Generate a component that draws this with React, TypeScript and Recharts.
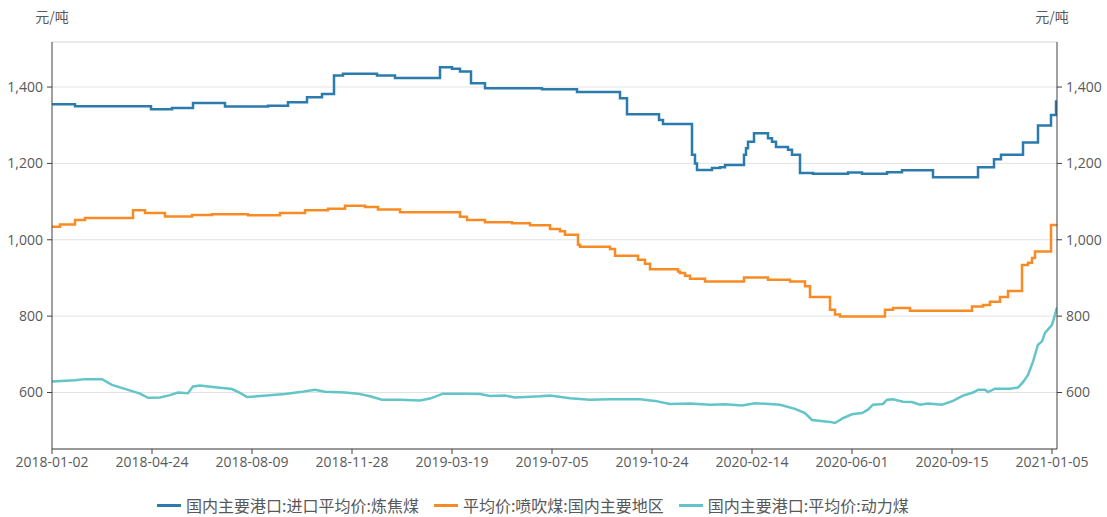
import React from 'react';
import { LineChart, Line, XAxis, YAxis, CartesianGrid, Legend, ReferenceLine } from 'recharts';

// x positions are trading-day indices scaled so that each labelled tick is 100 units apart
const tickPositions = [0, 100, 200, 300, 400, 500, 600, 700, 800, 900, 1000];
const tickLabels = ['2018-01-02', '2018-04-24', '2018-08-09', '2018-11-28', '2019-03-19', '2019-07-05', '2019-10-24', '2020-02-14', '2020-06-01', '2020-09-15', '2021-01-05'];
const yTicks = [600, 800, 1000, 1200, 1400];

const cokingX = [0, 23, 99, 120, 141, 173, 216, 236, 255, 270, 282, 291, 325, 343, 388, 400, 408, 419, 433, 490, 525, 568, 575, 607, 611, 640, 643, 645, 660, 668, 673, 692, 694, 696, 702, 716, 720, 724, 736, 740, 748, 761, 796, 810, 835, 850, 881, 926, 942, 949, 971, 986, 999, 1004, 1005];
const cokingY = [1355, 1350, 1342, 1345, 1358, 1349, 1351, 1360, 1373, 1382, 1430, 1435, 1430, 1424, 1452, 1448, 1441, 1410, 1397, 1394, 1387, 1371, 1329, 1314, 1303, 1223, 1200, 1183, 1188, 1190, 1196, 1223, 1240, 1257, 1279, 1266, 1257, 1243, 1236, 1223, 1175, 1173, 1176, 1173, 1177, 1182, 1164, 1190, 1211, 1223, 1255, 1299, 1327, 1362, 1362];

const pciX = [0, 8, 23, 33, 81, 93, 113, 140, 160, 196, 228, 253, 276, 293, 313, 326, 348, 408, 415, 433, 460, 478, 498, 508, 513, 526, 528, 558, 563, 586, 593, 598, 626, 628, 633, 638, 653, 692, 716, 738, 753, 758, 778, 783, 788, 833, 841, 858, 920, 931, 938, 948, 956, 970, 976, 980, 983, 999, 1005];
const pciY = [1034, 1040, 1052, 1057, 1077, 1070, 1061, 1065, 1067, 1064, 1070, 1077, 1081, 1089, 1086, 1079, 1072, 1060, 1052, 1046, 1043, 1038, 1028, 1022, 1013, 987, 982, 976, 958, 948, 937, 923, 917, 913, 906, 898, 891, 901, 895, 891, 878, 850, 817, 804, 799, 817, 821, 814, 825, 829, 838, 850, 866, 934, 940, 952, 969, 1039, 1037];

const thermalX = [0, 23, 33, 50, 60, 76, 88, 96, 108, 118, 126, 136, 141, 148, 163, 180, 188, 195, 205, 233, 248, 263, 273, 293, 306, 318, 330, 348, 368, 378, 391, 413, 428, 438, 453, 463, 488, 498, 518, 538, 558, 588, 603, 618, 638, 658, 673, 690, 703, 728, 743, 753, 760, 778, 783, 791, 800, 810, 816, 821, 831, 835, 841, 851, 860, 868, 876, 890, 901, 911, 921, 926, 933, 936, 943, 958, 966, 971, 976, 981, 986, 990, 993, 1000, 1002, 1005];
const thermalY = [629, 632, 635, 635, 620, 607, 597, 586, 587, 593, 600, 598, 616, 618, 614, 609, 599, 588, 590, 596, 601, 607, 602, 600, 597, 590, 581, 581, 579, 584, 597, 597, 596, 591, 592, 587, 590, 592, 585, 581, 582, 582, 578, 570, 571, 568, 569, 566, 572, 568, 557, 546, 528, 523, 520, 533, 543, 546, 555, 568, 570, 581, 582, 576, 575, 568, 571, 568, 578, 592, 600, 607, 607, 601, 610, 610, 613, 627, 646, 681, 725, 734, 756, 777, 795, 823];

const seriesNames = ['国内主要港口:进口平均价:炼焦煤', '平均价:喷吹煤:国内主要地区', '国内主要港口:平均价:动力煤'];
const seriesColors = ['#2b7bac', '#f98b25', '#63c5c7'];

const toPoints = (xs: number[], ys: number[]) => xs.map((x, i) => ({ x, v: ys[i] }));
const cokingData = toPoints(cokingX, cokingY);
const pciData = toPoints(pciX, pciY);
const thermalData = toPoints(thermalX, thermalY);

const FONT = '"Open Sans", "Noto Sans CJK SC", sans-serif';
const CJK = '"Noto Sans CJK SC", sans-serif';
const axisColor = '#404040';
const textColor = '#595959';

const unitLabel = (side: 'left' | 'right') => (props: any) => {
  const vb = props.viewBox || {};
  const x = side === 'left' ? vb.x + vb.width : vb.x - 5;
  return (
    <text x={x} y={vb.y - 20} textAnchor="middle" fontSize={14} fill={textColor} fontFamily={CJK}>
      元/吨
    </text>
  );
};

const renderLegend = () => (
  <div style={{ display: 'flex', alignItems: 'center', height: 24, lineHeight: '24px', paddingLeft: 157, fontFamily: CJK, fontSize: 16, color: textColor }}>
    {seriesNames.map((n, i) => (
      <div key={n} style={{ display: 'flex', alignItems: 'center', marginRight: 15 }}>
        <span style={{ display: 'inline-block', width: 24, height: 3, background: seriesColors[i], marginRight: 5 }} />
        <span style={{ whiteSpace: 'nowrap' }}>{n}</span>
      </div>
    ))}
  </div>
);

export default function App() {
  return (
    <div style={{ position: 'fixed', left: 0, top: 0, width: 1107, height: 517, background: '#fff' }}>
      <LineChart width={1107} height={517} margin={{ top: 42, right: 0, bottom: 0, left: 0 }}>
        <CartesianGrid horizontal vertical={false} stroke="#e3e3e3" yAxisId="left" />
        <XAxis
          dataKey="x"
          type="number"
          domain={[0, 1005]}
          ticks={tickPositions}
          tickFormatter={(v: number) => tickLabels[tickPositions.indexOf(v)] ?? ''}
          height={44}
          tickSize={5}
          tickMargin={3}
          stroke={axisColor}
          tick={{ fill: textColor, fontSize: 14, fontFamily: FONT }}
          allowDataOverflow
          interval={0}
        />
        <YAxis
          yAxisId="left"
          orientation="left"
          width={52}
          domain={[452, 1518]}
          ticks={yTicks}
          tickFormatter={(v: number) => v.toLocaleString('en-US')}
          tickSize={5}
          tickMargin={4}
          stroke={axisColor}
          tick={{ fill: textColor, fontSize: 14, fontFamily: FONT }}
          allowDataOverflow
          label={{ content: unitLabel('left') } as any}
        />
        <YAxis
          yAxisId="right"
          orientation="right"
          width={50}
          domain={[452, 1518]}
          ticks={yTicks}
          tickFormatter={(v: number) => v.toLocaleString('en-US')}
          tickSize={5}
          tickMargin={4}
          stroke={axisColor}
          tick={{ fill: textColor, fontSize: 14, fontFamily: FONT }}
          allowDataOverflow
          label={{ content: unitLabel('right') } as any}
        />
        <ReferenceLine yAxisId="left" y={1518} stroke="#e3e3e3" />
        <Legend verticalAlign="bottom" content={renderLegend} wrapperStyle={{ left: 0, width: 1107 }} />
        <Line yAxisId="left" data={cokingData} dataKey="v" name={seriesNames[0]} type="stepAfter" stroke={seriesColors[0]} strokeWidth={2.5} dot={false} isAnimationActive={false} />
        <Line yAxisId="left" data={pciData} dataKey="v" name={seriesNames[1]} type="stepAfter" stroke={seriesColors[1]} strokeWidth={2.5} dot={false} isAnimationActive={false} />
        <Line yAxisId="left" data={thermalData} dataKey="v" name={seriesNames[2]} type="linear" stroke={seriesColors[2]} strokeWidth={2.5} dot={false} isAnimationActive={false} />
      </LineChart>
    </div>
  );
}
